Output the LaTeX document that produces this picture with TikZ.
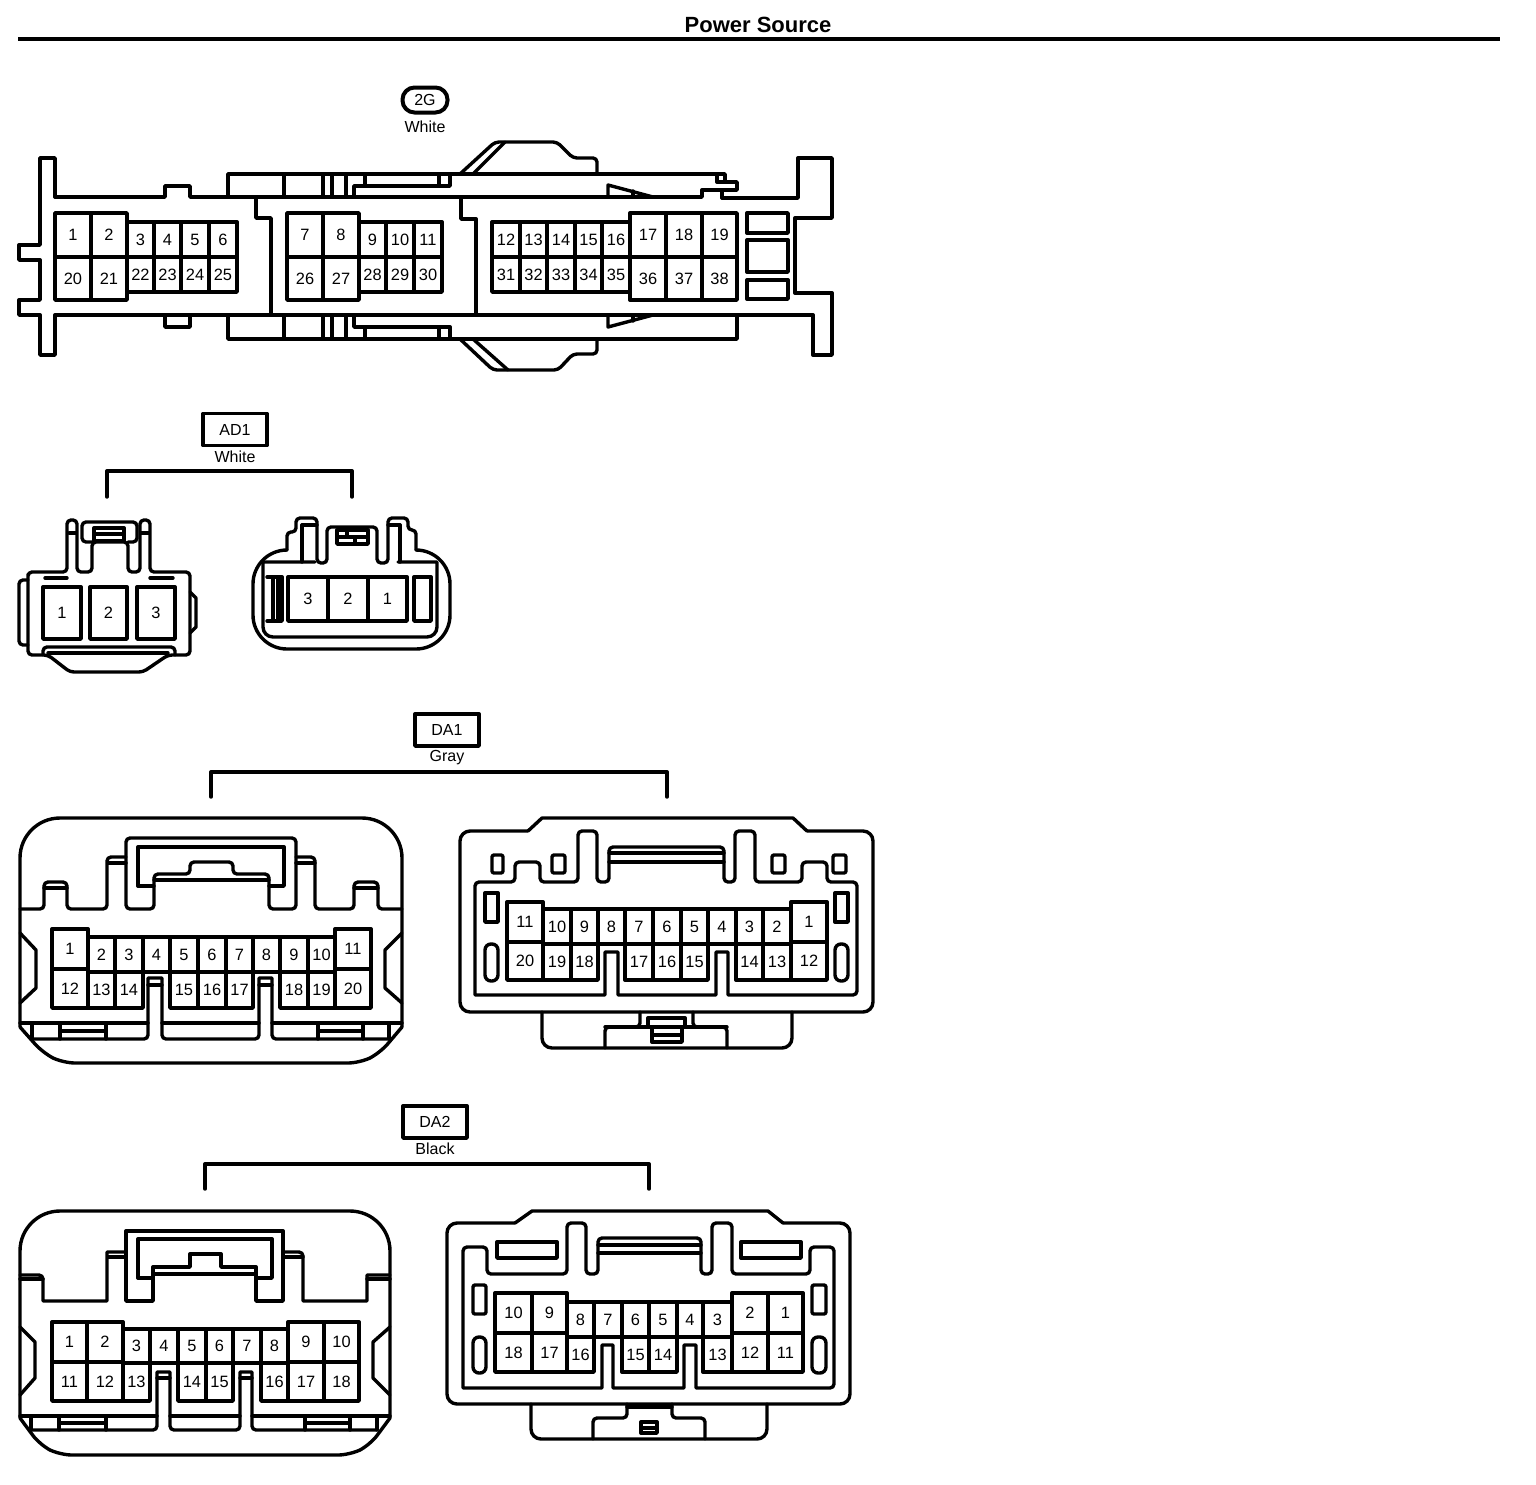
\documentclass[tikz,border=0pt]{standalone}
\usepackage{fontspec}
\setmainfont{Liberation Sans}
\tikzset{
	pincell/.style={draw,line width=1.7pt,inner sep=0pt,font=\fontsize{8.2}{10}\selectfont},
	tagbox/.style={draw,line width=1.7pt,inner sep=0pt,minimum width=32pt,minimum height=16pt,font=\fontsize{8}{10}\selectfont},
	colortext/.style={inner sep=0pt,font=\fontsize{8}{10}\selectfont},
	rc/.style={rounded corners=2pt},
	rcbig/.style={rounded corners=20pt}
}
% one numbered cavity: name, x1, x2, y1, y2, number
\def\pinbox#1#2#3#4#5#6{\node[pincell,minimum width={(#3-#2)*0.5pt},minimum height={(#5-#4)*0.5pt}] (#1) at ({(#2+#3)/2},{(#4+#5)/2}) {#6};}
\begin{document}
\begin{tikzpicture}[x=0.5pt,y=-0.5pt,line width=1.7pt,line join=round,line cap=round]
	\useasboundingbox (0,0) rectangle (1536,1484);
	
	% title
	\node[inner sep=0pt,font=\fontsize{11}{13}\bfseries\selectfont] (title) at (758,25) {Power Source};
	\coordinate (ruleL) at (18,39);
	\coordinate (ruleR) at (1500,39);
	\draw[line width=2pt,line cap=butt] (ruleL)--(ruleR);
	
	% connector 2G
	\node[draw,line width=2pt,rounded corners=6pt,inner sep=0pt,minimum width=22.5pt,minimum height=12.5pt,font=\fontsize{8}{10}\selectfont] (tagG) at (425,100) {2G};
	\node[colortext] (colorG) at (425,127) {White};
	\draw (55,197)--(55,158)--(40,158)--(40,245)--(19,245)--(19,260)--(40,260)--(40,300)--(19,300)--(19,315)--(40,315)--(40,355)--(55,355)--(55,315)--(813,315)--(813,355)--(832,355)--(832,293)--(795,293)--(795,218)--(832,218)--(832,158)--(798,158)--(798,198)--(722,198);
	\draw (55,197)--(165,197)--(165,186)--(190,186)--(190,197)--(702,197)--(702,190)--(737,190)--(737,182)--(725,182)--(725,174)--(228,174)--(228,197);
	\draw (165,315)--(165,327)--(190,327)--(190,315);
	\draw (228,315)--(228,339)--(737,339)--(737,315);
	\draw (256,197)--(256,218)--(271,218)--(271,315);
	\draw (461,197)--(461,219)--(476,219)--(476,315);
	\foreach \xa in {284,323,332,346}{
		\draw (\xa,174)--(\xa,197);
		\draw (\xa,315)--(\xa,339);
	}
	\draw (354,197)--(354,186)--(450,186)--(450,174);
	\draw (354,315)--(354,327)--(450,327)--(450,339);
	\foreach \xa in {365,439}{
		\draw (\xa,174)--(\xa,186);
		\draw (\xa,327)--(\xa,339);
	}
	\draw (717,174)--(717,182)--(725,182);
	\draw (722,190)--(722,198);
	% top and bottom lobes
	\draw[rc] (460,174)--(495,142)--(557,142)--(573,158)--(597,158)--(597,174);
	\draw (473,174)--(505,142);
	\draw[rc] (460,339)--(493,370)--(558,370)--(573,354)--(597,354)--(597,339);
	\draw (473,339)--(508,370);
	\draw (608,197)--(608,185)--(653,197);
	\draw (633,191)--(633,197);
	\draw (608,315)--(608,327)--(653,315);
	\draw (633,321)--(633,315);
	\draw (747,213) rectangle (788,233);
	\draw (747,240) rectangle (788,272);
	\draw (747,280) rectangle (788,299);
	% cavities of 2G
	\foreach \xa/\xb/\t in {55/91/1,91/127/2,287/323/7,323/359/8,630/666/17,666/702/18,702/737/19}{
		\pinbox{g\t}{\xa}{\xb}{213}{257}{\t}
	}
	\foreach \xa/\xb/\t in {55/91/20,91/127/21,287/323/26,323/359/27,630/666/36,666/702/37,702/737/38}{
		\pinbox{g\t}{\xa}{\xb}{257}{300}{\t}
	}
	\foreach \xa/\xb/\t in {127/154/3,154/181/4,181/209/5,209/237/6,359/386/9,386/414/10,414/442/11,492/520/12,520/547/13,547/575/14,575/602/15,602/630/16}{
		\pinbox{g\t}{\xa}{\xb}{222}{257}{\t}
	}
	\foreach \xa/\xb/\t in {127/154/22,154/181/23,181/209/24,209/237/25,359/386/28,386/414/29,414/442/30,492/520/31,520/547/32,547/575/33,575/602/34,602/630/35}{
		\pinbox{g\t}{\xa}{\xb}{257}{292}{\t}
	}
	
	% connector AD1
	\node[tagbox] (tagAD) at (235,429.5) {AD1};
	\node[colortext] (colorAD) at (235,457) {White};
	\coordinate (ad1L) at (107,497);
	\coordinate (ad1R) at (352,497);
	\draw (ad1L)--++(0,-26)-|(ad1R);
	% left half
	\draw[rc] (28,578)--(28,572)--(67,572)--(67,520)--(77,520)--(77,572)--(92,572)--(92,542)--(128,542)--(128,572)--(140,572)--(140,520)--(150,520)--(150,572)--(190,572)--(190,655)--(168,655)--(143,672)--(70,672)--(48,655)--(28,655)--cycle;
	\draw[rc] (92,542)--(82,542)--(82,522)--(137,522)--(137,542)--(128,542);
	\draw (94,528) rectangle (124,541);
	\draw (94,534)--(124,534);
	\draw (69,533)--(76,533);
	\draw (141,533)--(149,533);
	\draw (45,578)--(67,578);
	\draw (150,578)--(173,578);
	\draw[rc] (43,655)--(43,647)--(175,647)--(175,655);
	\draw (48,653)--(168,653);
	\draw[rc] (28,580)--(19,580)--(19,645)--(28,645);
	\draw (190,592)--(196,598)--(196,627)--(190,633);
	\pinbox{adl1}{43}{81}{587}{639}{1}
	\pinbox{adl2}{90}{127}{587}{639}{2}
	\pinbox{adl3}{137}{175}{587}{639}{3}
	% right half
	\draw[rounded corners=17pt] (287,550)--(253,550)--(253,649)--(450,649)--(450,550)--(416,550);
	\draw[rc] (287,550)--(287,532)--(296,532)--(296,518)--(317,518)--(317,563)--(327,563)--(327,527)--(377,527)--(377,563)--(388,563)--(388,518)--(408,518)--(408,530)--(416,530)--(416,550);
	\draw (302,525)--(302,562);
	\draw (302,525)--(317,525);
	\draw (400,525)--(400,562);
	\draw (388,525)--(400,525);
	\draw (315,562)--(263,562)[rounded corners=5pt]--(263,637)--(437,637)[sharp corners]--(437,562)--(398,562);
	\draw (337,530) rectangle (368,544);
	\draw (337,537)--(368,537);
	\draw (347,530)--(347,537);
	\draw (355,537)--(355,544);
	\draw (267,577)--(282,577)--(282,621)--(267,621);
	\draw (273,577)--(273,621);
	\draw (278,577)--(278,621);
	\draw (414,577) rectangle (431,621);
	\foreach \xa/\xb/\t in {288/328/3,328/368/2,368/407/1}{
		\pinbox{adr\t}{\xa}{\xb}{577}{621}{\t}
	}
	
	% connector DA1
	\node[tagbox] (tagDA) at (447,730) {DA1};
	\node[colortext] (colorDA) at (447,758) {Gray};
	\coordinate (da1L) at (211,797);
	\coordinate (da1R) at (667,797);
	\draw (da1L)--++(0,-25)-|(da1R);
	% left half
	\draw[rcbig] (20,1027)--(20,818)--(402,818)--(402,1027);
	\draw[rounded corners=6pt] (20,1027)--(43,1053)--(63,1063)--(360,1063)--(380,1053)--(402,1027);
	\draw[rc] (20,909)--(44,909)--(44,882)--(67,882)--(67,909)--(107,909)--(107,857)--(126,857);
	\draw[rc] (126,857)--(126,838)--(296,838)--(296,909)--(269,909)--(269,874)--(233,874)--(233,862)--(190,862)--(190,874)--(154,874)--(154,909)--(126,909)--(126,857);
	\draw (138,886)--(138,847)--(284,847)--(284,886)--(269,886);
	\draw (138,886)--(154,886);
	\draw (154,880)--(269,880);
	\draw[rc] (296,857)--(315,857)--(315,909)--(354,909)--(354,882)--(378,882)--(378,909)--(402,909);
	\draw (44,888)--(67,888);
	\draw (108,863)--(126,863);
	\draw (296,863)--(315,863);
	\draw (354,888)--(378,888);
	\draw (20,933)--(36,950)--(36,988)--(20,1003);
	\draw (402,933)--(385,950)--(385,988)--(402,1003);
	\draw (20,1023)--(148,1023);
	\draw (162,1023)--(259,1023);
	\draw (272,1023)--(402,1023);
	\draw[rc] (32,1039)--(148,1039)[sharp corners]--(148,978)--(162,978)[rc]--(162,1039)--(259,1039)[sharp corners]--(259,978)--(272,978)[rc]--(272,1039)--(389,1039);
	\draw (148,985)--(162,985);
	\draw (259,985)--(272,985);
	\foreach \xa in {32,60,106,318,363,389}{
		\draw (\xa,1023)--(\xa,1039);
	}
	\draw (60,1031)--(106,1031);
	\draw (318,1031)--(363,1031);
	\pinbox{dal1}{52}{88}{929}{969}{1}
	\pinbox{dal12}{52}{88}{969}{1008}{12}
	\pinbox{dal11}{335}{371}{929}{969}{11}
	\pinbox{dal20}{335}{371}{969}{1008}{20}
	\foreach \xa/\xb/\t in {88/115/2,115/143/3,143/170/4,170/198/5,198/226/6,226/253/7,253/280/8,280/308/9,308/335/10}{
		\pinbox{dal\t}{\xa}{\xb}{937}{972}{\t}
	}
	\foreach \xa/\xb/\t in {88/115/13,115/143/14,170/198/15,198/226/16,226/253/17,280/308/18,308/335/19}{
		\pinbox{dal\t}{\xa}{\xb}{972}{1008}{\t}
	}
	% right half
	\draw[rounded corners=5pt] (528,831)--(460,831)--(460,1012)--(873,1012)--(873,831)--(807,831);
	\draw (528,831)--(542,818)--(793,818)--(807,831);
	\draw[rounded corners=5pt] (542,1012)--(542,1048)--(792,1048)--(792,1012);
	\draw[rc] (640,1012)--(640,1027)--(605,1027)--(605,1048);
	\draw[rc] (693,1012)--(693,1027)--(727,1027)--(727,1048);
	\draw (648,1027)--(648,1018)--(685,1018)--(685,1027);
	\draw (605,1027)--(727,1027);
	\draw (652,1027)--(652,1042)--(682,1042)--(682,1027);
	\draw (652,1035)--(682,1035);
	\draw[rc] (475,995)--(475,882)--(515,882)--(515,862)--(540,862)--(540,882)--(578,882)--(578,831)--(597,831)--(597,882)--(609,882)--(609,847)--(724,847)--(724,882)--(735,882)--(735,831)--(755,831)--(755,882)--(802,882)--(802,862)--(827,862)--(827,882)--(857,882)--(857,995)[sharp corners]--(728,995)--(728,952)--(716,952)--(716,995)--(618,995)--(618,952)--(605,952)--(605,995)--(475,995);
	\draw (609,853)--(724,853);
	\draw (609,862)--(724,862);
	\foreach \xa/\xb in {492/503,552/565,772/785,833/846}{
		\draw[rounded corners=1pt] (\xa,855) rectangle (\xb,873);
	}
	\foreach \xa/\xb in {485/498,835/848}{
		\draw (\xa,893) rectangle (\xb,922);
		\draw[rounded corners=3pt] (\xa,944) rectangle (\xb,981);
	}
	\pinbox{dar11}{507}{543}{902}{942}{11}
	\pinbox{dar20}{507}{543}{942}{980}{20}
	\pinbox{dar1}{791}{827}{902}{942}{1}
	\pinbox{dar12}{791}{827}{942}{980}{12}
	\foreach \xa/\xb/\t in {543/571/10,571/598/9,598/625/8,625/653/7,653/681/6,681/708/5,708/736/4,736/763/3,763/791/2}{
		\pinbox{dar\t}{\xa}{\xb}{909}{944}{\t}
	}
	\foreach \xa/\xb/\t in {543/571/19,571/598/18,625/653/17,653/681/16,681/708/15,736/763/14,763/791/13}{
		\pinbox{dar\t}{\xa}{\xb}{944}{980}{\t}
	}
	
	% connector DA2
	\node[tagbox] (tagDB) at (435,1122) {DA2};
	\node[colortext] (colorDB) at (435,1149) {Black};
	\coordinate (da2L) at (205,1189);
	\coordinate (da2R) at (649,1189);
	\draw (da2L)--++(0,-25)-|(da2R);
	% left half
	\draw[rcbig] (20,1418)--(20,1211)--(390,1211)--(390,1418);
	\draw[rounded corners=6pt] (20,1418)--(40,1445)--(60,1455)--(350,1455)--(370,1445)--(390,1418);
	\draw[rc] (20,1275)--(43,1275)[sharp corners]--(43,1301)--(107,1301)--(107,1252)[rc]--(126,1252);
	\draw (126,1252)--(126,1231)--(283,1231)--(283,1301)--(256,1301)--(256,1267)--(221,1267)--(221,1254)--(190,1254)--(190,1267)--(153,1267)--(153,1301)--(126,1301)--(126,1252);
	\draw[rc] (283,1252)--(303,1252)[sharp corners]--(303,1301)--(367,1301)--(367,1275)[rc]--(390,1275);
	\draw (138,1278)--(138,1239)--(272,1239)--(272,1278)--(256,1278);
	\draw (138,1278)--(153,1278);
	\draw (153,1274)--(256,1274);
	\draw (20,1279)--(43,1279);
	\draw (108,1257)--(126,1257);
	\draw (283,1257)--(303,1257);
	\draw (367,1279)--(390,1279);
	\draw (20,1327)--(35,1342)--(35,1378)--(20,1395);
	\draw (390,1327)--(373,1342)--(373,1378)--(390,1395);
	\draw (20,1416)--(157,1416);
	\draw (170,1416)--(240,1416);
	\draw (252,1416)--(390,1416);
	\draw[rc] (31,1430)--(157,1430)[sharp corners]--(157,1372)--(170,1372)[rc]--(170,1430)--(240,1430)[sharp corners]--(240,1372)--(252,1372)[rc]--(252,1430)--(377,1430);
	\draw (157,1378)--(170,1378);
	\draw (240,1378)--(252,1378);
	\foreach \xa in {31,59,106,305,350,377}{
		\draw (\xa,1416)--(\xa,1430);
	}
	\draw (59,1423)--(106,1423);
	\draw (305,1423)--(350,1423);
	\foreach \xa/\xb/\t in {52/87/1,87/123/2,288/324/9,324/359/10}{
		\pinbox{dbl\t}{\xa}{\xb}{1322}{1362}{\t}
	}
	\foreach \xa/\xb/\t in {52/87/11,87/123/12,288/324/17,324/359/18}{
		\pinbox{dbl\t}{\xa}{\xb}{1362}{1401}{\t}
	}
	\foreach \xa/\xb/\t in {123/150/3,150/178/4,178/206/5,206/233/6,233/261/7,261/288/8}{
		\pinbox{dbl\t}{\xa}{\xb}{1329}{1363}{\t}
	}
	\foreach \xa/\xb/\t in {123/150/13,178/206/14,206/233/15,261/288/16}{
		\pinbox{dbl\t}{\xa}{\xb}{1363}{1401}{\t}
	}
	% right half
	\draw[rounded corners=5pt] (515,1223)--(447,1223)--(447,1404)--(850,1404)--(850,1223)--(783,1223);
	\draw (515,1223)--(532,1211)--(768,1211)--(783,1223);
	\draw[rounded corners=5pt] (531,1404)--(531,1439)--(767,1439)--(767,1404);
	\draw[rc] (627,1404)--(627,1418)--(593,1418)--(593,1439);
	\draw[rc] (672,1404)--(672,1418)--(705,1418)--(705,1439);
	\draw (627,1407)--(672,1407);
	\draw (641,1422) rectangle (657,1433);
	\draw (641,1428)--(657,1428);
	\draw[rc] (463,1388)--(463,1247)--(487,1247)--(487,1274)--(567,1274)--(567,1223)--(586,1223)--(586,1274)--(598,1274)--(598,1238)--(701,1238)--(701,1274)--(712,1274)--(712,1223)--(732,1223)--(732,1274)--(810,1274)--(810,1247)--(834,1247)--(834,1388)[sharp corners]--(696,1388)--(696,1345)--(684,1345)--(684,1388)--(613,1388)--(613,1345)--(602,1345)--(602,1388)--(463,1388);
	\draw (598,1245)--(701,1245);
	\draw (598,1253)--(701,1253);
	\foreach \xa/\xb in {497/557,741/801}{
		\draw (\xa,1242) rectangle (\xb,1258);
	}
	\foreach \xa/\xb in {473/486,812/826}{
		\draw[rounded corners=1pt] (\xa,1285) rectangle (\xb,1314);
		\draw[rounded corners=3pt] (\xa,1337) rectangle (\xb,1373);
	}
	\foreach \xa/\xb/\t in {495/532/10,532/567/9,732/768/2,768/803/1}{
		\pinbox{dbr\t}{\xa}{\xb}{1293}{1333}{\t}
	}
	\foreach \xa/\xb/\t in {495/532/18,532/567/17,732/768/12,768/803/11}{
		\pinbox{dbr\t}{\xa}{\xb}{1333}{1372}{\t}
	}
	\foreach \xa/\xb/\t in {567/594/8,594/622/7,622/649/6,649/677/5,677/703/4,703/732/3}{
		\pinbox{dbr\t}{\xa}{\xb}{1302}{1337}{\t}
	}
	\foreach \xa/\xb/\t in {567/594/16,622/649/15,649/677/14,703/732/13}{
		\pinbox{dbr\t}{\xa}{\xb}{1337}{1372}{\t}
	}
\end{tikzpicture}
\end{document}
